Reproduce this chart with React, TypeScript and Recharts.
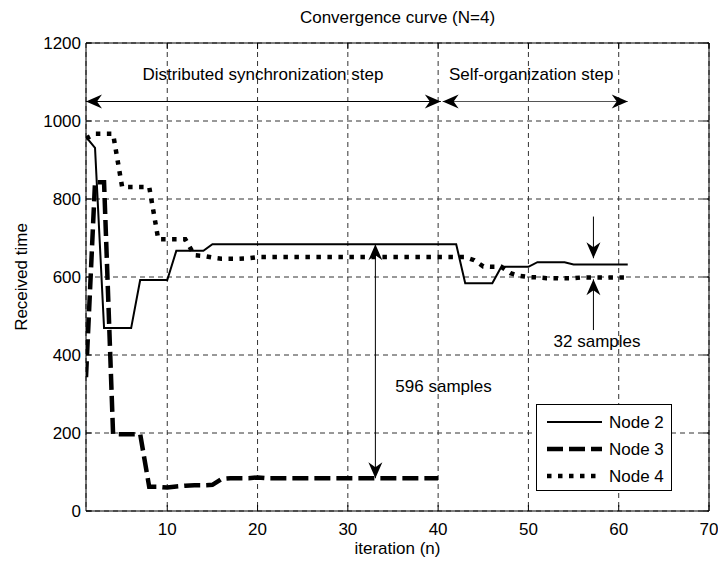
import React from "react";
import {
  LineChart,
  Line,
  XAxis,
  YAxis,
  CartesianGrid,
  ReferenceArea,
  ReferenceLine,
  ReferenceDot,
  Legend,
} from "recharts";

const FONT = '"Liberation Sans", Arial, Helvetica, sans-serif';
const FS = 17;
const PLOT = { left: 86, top: 43, right: 709, bottom: 511 };

// values, index 0 = iteration 1
const node2 = [
  959, 931, 469, 469, 469, 469, 592, 592, 592, 592,
  667, 667, 667, 667, 684, 684, 684, 684, 684, 684,
  684, 684, 684, 684, 684, 684, 684, 684, 684, 684,
  684, 684, 684, 684, 684, 684, 684, 684, 684, 684,
  684, 684, 584, 584, 584, 584, 626, 626, 626, 626,
  638, 638, 638, 638, 632, 632, 632, 632, 632, 632, 632,
];
const node3 = [
  343, 843, 843, 197, 197, 197, 197, 62, 62, 60,
  63, 65, 66, 66, 67, 82, 84, 84, 84, 86,
  84, 84, 84, 84, 84, 84, 84, 84, 84, 84,
  84, 84, 84, 84, 84, 84, 84, 84, 84, 84,
];
const node4 = [
  955, 967, 967, 967, 831, 831, 831, 831, 697, 697,
  697, 697, 656, 654, 650, 647, 647, 647, 648, 651,
  651, 651, 651, 651, 651, 651, 651, 651, 651, 651,
  651, 651, 651, 651, 651, 651, 651, 651, 651, 651,
  651, 651, 651, 643, 627, 626, 626, 610, 603, 600,
  599, 597, 597, 597, 597, 599, 599, 599, 599, 599, 599,
];

const seriesNames = ["Node 2", "Node 3", "Node 4"];
const xTicks = [10, 20, 30, 40, 50, 60, 70];
const yTicks = [0, 200, 400, 600, 800, 1000, 1200];

const data = node2.map((v, i) => ({
  n: i + 1,
  node2: v,
  node3: node3[i],
  node4: node4[i],
}));

const STYLES = [
  { key: "node2", width: 2, dash: undefined },
  { key: "node3", width: 4.5, dash: "16 6" },
  { key: "node4", width: 4.5, dash: "4.5 6.5" },
];

// annotations (data coordinates)
const arrows = [
  { from: [1, 1050], to: [40.3, 1050], color: "#000", both: true },
  { from: [40.5, 1050], to: [61, 1050], color: "#555", both: true },
  { from: [33.05, 84], to: [33.05, 684], color: "#000", both: true },
  { from: [57.2, 755], to: [57.2, 648], color: "#000", both: false },
  { from: [57.2, 464], to: [57.2, 594], color: "#000", both: false },
];
const notes = [
  { text: "Distributed synchronization step", x: 20.6, y: 1118 },
  { text: "Self-organization step", x: 50.3, y: 1118 },
  { text: "596 samples", x: 40.6, y: 320 },
  { text: "32 samples", x: 57.6, y: 434 },
];

const headShape = (angle: number) => (p: any) => (
  <path
    d="M0,0 L-16,-7 L-11,0 L-16,7 Z"
    transform={`translate(${p.cx},${p.cy}) rotate(${angle})`}
    fill="#000"
  />
);

const textShape = (text: string) => (p: any) => (
  <text
    x={p.cx}
    y={p.cy}
    textAnchor="middle"
    dominantBaseline="central"
    fontFamily={FONT}
    fontSize={FS}
    fill="#000"
  >
    {text}
  </text>
);

const dirAngle = (a: number[], b: number[]) =>
  (Math.atan2(-Math.sign(b[1] - a[1]), Math.sign(b[0] - a[0])) * 180) / Math.PI;

const XTick = ({ x, payload }: any) => (
  <g>
    <line x1={x} x2={x} y1={PLOT.bottom} y2={PLOT.bottom - 6} stroke="#000" />
    <line x1={x} x2={x} y1={PLOT.top} y2={PLOT.top + 6} stroke="#000" />
    <text x={x} y={PLOT.bottom + 18} textAnchor="middle" dominantBaseline="central" fontFamily={FONT} fontSize={FS} fill="#000">
      {payload.value}
    </text>
  </g>
);

const YTick = ({ y, payload }: any) => (
  <g>
    <line x1={PLOT.left} x2={PLOT.left + 6} y1={y} y2={y} stroke="#000" />
    <line x1={PLOT.right} x2={PLOT.right - 6} y1={y} y2={y} stroke="#000" />
    <text x={PLOT.left - 5} y={y} textAnchor="end" dominantBaseline="central" fontFamily={FONT} fontSize={FS} fill="#000">
      {payload.value}
    </text>
  </g>
);

const LegendBox = () => (
  <svg width={136} height={87} style={{ display: "block" }}>
    <rect x={0.5} y={0.5} width={135} height={86} fill="#fff" stroke="#000" />
    {STYLES.map((s, i) => {
      const cy = 18 + i * 27;
      return (
        <g key={s.key}>
          <line x1={11} x2={66} y1={cy} y2={cy} stroke="#000" strokeWidth={s.width} strokeDasharray={s.dash} />
          <text x={73} y={cy} dominantBaseline="central" fontFamily={FONT} fontSize={FS} fill="#000">
            {seriesNames[i]}
          </text>
        </g>
      );
    })}
  </svg>
);

export default function App() {
  return (
    <div style={{ position: "absolute", left: 0, top: 0, width: 718, height: 561, background: "#fff" }}>
      <div
        style={{
          position: "absolute",
          left: 397.5,
          top: 8,
          transform: "translateX(-50%)",
          whiteSpace: "nowrap",
          fontFamily: FONT,
          fontSize: FS,
          lineHeight: "20px",
          color: "#000",
        }}
      >
        Convergence curve (N=4)
      </div>
      <LineChart
        width={718}
        height={561}
        data={data}
        margin={{ top: PLOT.top, right: 718 - PLOT.right, bottom: 0, left: 0 }}
      >
        <CartesianGrid stroke="#333" strokeDasharray="5 4" />
        <XAxis
          dataKey="n"
          type="number"
          domain={[1, 70]}
          ticks={xTicks}
          interval={0}
          height={561 - PLOT.bottom}
          axisLine={false}
          tickLine={false}
          tick={<XTick />}
          allowDataOverflow
          label={{
            content: ({ viewBox }: any) => (
              <text
                x={viewBox.x + viewBox.width / 2}
                y={548}
                textAnchor="middle"
                dominantBaseline="central"
                fontFamily={FONT}
                fontSize={FS}
                fill="#000"
              >
                iteration (n)
              </text>
            ),
          }}
        />
        <YAxis
          type="number"
          domain={[0, 1200]}
          ticks={yTicks}
          interval={0}
          width={PLOT.left}
          axisLine={false}
          tickLine={false}
          tick={<YTick />}
          allowDataOverflow
          label={{
            content: ({ viewBox }: any) => (
              <text
                transform={`translate(21, ${viewBox.y + viewBox.height / 2}) rotate(-90)`}
                textAnchor="middle"
                dominantBaseline="central"
                fontFamily={FONT}
                fontSize={FS}
                fill="#000"
              >
                Received time
              </text>
            ),
          }}
        />
        <ReferenceArea x1={1} x2={70} y1={0} y2={1200} fill="none" stroke="#000" strokeWidth={1} ifOverflow="visible" />
        {STYLES.map((s, i) => (
          <Line
            key={s.key}
            name={seriesNames[i]}
            type="linear"
            dataKey={s.key}
            stroke="#000"
            strokeWidth={s.width}
            strokeDasharray={s.dash}
            dot={false}
            activeDot={false}
            isAnimationActive={false}
          />
        ))}
        {arrows.map((a, i) => (
          <ReferenceLine
            key={`al${i}`}
            segment={[
              { x: a.from[0], y: a.from[1] },
              { x: a.to[0], y: a.to[1] },
            ]}
            stroke={a.color}
            strokeWidth={1}
            ifOverflow="visible"
          />
        ))}
        {arrows.map((a, i) => (
          <ReferenceDot
            key={`ae${i}`}
            x={a.to[0]}
            y={a.to[1]}
            r={0}
            ifOverflow="visible"
            shape={headShape(dirAngle(a.from, a.to))}
          />
        ))}
        {arrows
          .filter((a) => a.both)
          .map((a, i) => (
            <ReferenceDot
              key={`as${i}`}
              x={a.from[0]}
              y={a.from[1]}
              r={0}
              ifOverflow="visible"
              shape={headShape(dirAngle(a.to, a.from))}
            />
          ))}
        {notes.map((t, i) => (
          <ReferenceDot key={`t${i}`} x={t.x} y={t.y} r={0} ifOverflow="visible" shape={textShape(t.text)} />
        ))}
        <Legend
          layout="vertical"
          align="center"
          verticalAlign="middle"
          content={() => <LegendBox />}
          wrapperStyle={{ left: 536, top: 404, width: 136, height: 87 }}
        />
      </LineChart>
    </div>
  );
}
